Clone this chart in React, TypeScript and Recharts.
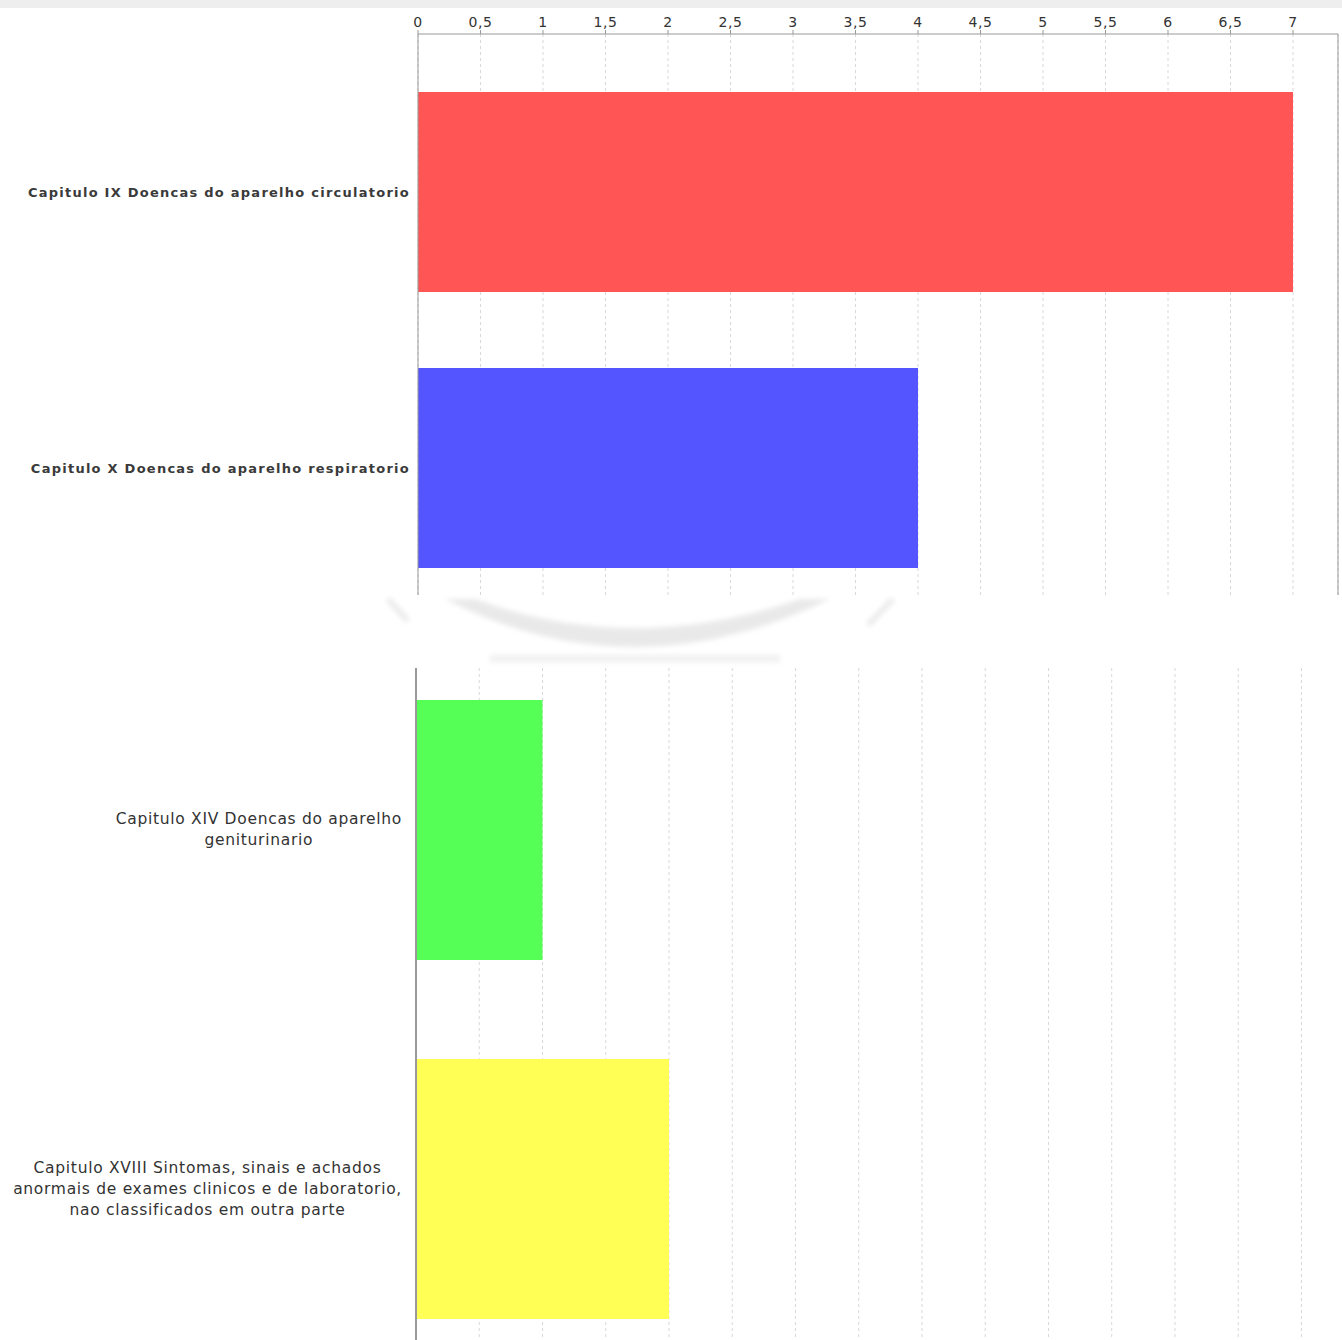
import React from 'react';
import { BarChart, Bar, XAxis, YAxis, CartesianGrid, Cell, ReferenceLine } from 'recharts';

// ---- data ----
const topCategories = [
  'Capitulo IX Doencas do aparelho circulatorio',
  'Capitulo X Doencas do aparelho respiratorio',
];
const topValues = [7, 4];
const topColors = ['#FF5555', '#5555FF'];

const bottomCategories = [
  'Capitulo XIV Doencas do aparelho geniturinario',
  'Capitulo XVIII Sintomas, sinais e achados anormais de exames clinicos e de laboratorio, nao classificados em outra parte',
];
const bottomLabelLines = [
  ['Capitulo XIV Doencas do aparelho', 'geniturinario'],
  [
    'Capitulo XVIII Sintomas, sinais e achados',
    'anormais de exames clinicos e de laboratorio,',
    'nao classificados em outra parte',
  ],
];
const bottomValues = [1, 2];
const bottomColors = ['#55FF55', '#FFFF55'];

const xTicks = [0, 0.5, 1, 1.5, 2, 2.5, 3, 3.5, 4, 4.5, 5, 5.5, 6, 6.5, 7];
const xMax = 7.36;

const topData = topCategories.map((name, i) => ({ name, value: topValues[i] }));
const bottomData = bottomCategories.map((name, i) => ({ name, value: bottomValues[i] }));

const fmt = (v: number) => String(v).replace('.', ',');

const BOTTOM_FONT = '15.5px "DejaVu Sans"';
const BOTTOM_LS = 0.7;
let ctx: CanvasRenderingContext2D | null = null;
const measure = (s: string) => {
  if (!ctx) ctx = document.createElement('canvas').getContext('2d');
  if (!ctx) return s.length * 9;
  ctx.font = BOTTOM_FONT;
  return ctx.measureText(s).width + BOTTOM_LS * s.length;
};

const BottomTick = (props: any) => {
  const { y, index } = props;
  const lines = bottomLabelLines[index] || [];
  const blockW = Math.max(...lines.map(measure));
  const cx = 402 - blockW / 2;
  const lh = 21;
  const y0 = y - ((lines.length - 1) * lh) / 2;
  return (
    <text
      textAnchor="middle"
      fontFamily='"DejaVu Sans"'
      fontSize={15.5}
      letterSpacing={BOTTOM_LS}
      fill="#333"
    >
      {lines.map((l: string, i: number) => (
        <tspan key={i} x={cx} y={y0 + i * lh} dominantBaseline="central">
          {l}
        </tspan>
      ))}
    </text>
  );
};

export default function App() {
  return (
    <div
      style={{
        position: 'absolute',
        left: 0,
        top: 0,
        width: 1342,
        height: 1340,
        background: '#ffffff',
        overflow: 'hidden',
      }}
    >
      <div style={{ position: 'absolute', left: 0, top: 0, width: 1342, height: 8, background: '#eeeeee' }} />

      {/* upper chart */}
      <div style={{ position: 'absolute', left: 0, top: 8, width: 1342, height: 587, overflow: 'hidden' }}>
        <BarChart
          width={1342}
          height={618}
          data={topData}
          layout="vertical"
          margin={{ top: 0, right: 4, bottom: 0, left: 0 }}
          barSize={200}
        >
          <CartesianGrid horizontal={false} stroke="#d8d8d8" strokeDasharray="3 3" />
          <XAxis
            type="number"
            orientation="top"
            domain={[0, xMax]}
            ticks={xTicks}
            tickFormatter={fmt}
            height={26}
            tickSize={4}
            tickMargin={3}
            stroke="#999"
            tick={{ fontSize: 14, fill: '#333', fontFamily: '"DejaVu Sans"', letterSpacing: 0.6 }}
            interval={0}
          />
          <YAxis
            type="category"
            dataKey="name"
            width={418}
            padding={{ top: 20, bottom: 20 }}
            tickLine={false}
            tickSize={6}
            tickMargin={2}
            stroke="#999"
            tick={{ fontSize: 13, fontWeight: 'bold', fill: '#3a3a3a', fontFamily: '"DejaVu Sans"', letterSpacing: 1.25 }}
          />
          <ReferenceLine x={xMax} stroke="#999" ifOverflow="extendDomain" />
          <Bar dataKey="value" isAnimationActive={false}>
            {topData.map((d, i) => (
              <Cell key={d.name} fill={topColors[i]} />
            ))}
          </Bar>
        </BarChart>
      </div>

      {/* faint watermark in the gap */}
      <svg style={{ position: 'absolute', left: 0, top: 595 }} width={1342} height={73}>
        <defs>
          <filter id="wmBlur">
            <feGaussianBlur stdDeviation="2.5" />
          </filter>
        </defs>
        <g filter="url(#wmBlur)" opacity={0.55}>
          <path d="M 445 4 Q 632 100 830 4 L 800 4 Q 632 62 475 4 Z" fill="#d8d8d8" />
          <path d="M 388 4 L 408 26" stroke="#dcdcdc" strokeWidth={6} />
          <path d="M 893 4 L 868 30" stroke="#dcdcdc" strokeWidth={6} />
          <rect x={490} y={60} width={290} height={7} fill="#e4e4e4" />
        </g>
      </svg>

      {/* lower chart */}
      <div style={{ position: 'absolute', left: 0, top: 668, width: 1342, height: 672, overflow: 'hidden' }}>
        <div style={{ position: 'absolute', left: 0, top: -18 }}>
          <BarChart
            width={1347}
            height={718}
            data={bottomData}
            layout="vertical"
            margin={{ top: 0, right: 0, bottom: 0, left: 0 }}
            barSize={260}
          >
            <CartesianGrid horizontal={false} stroke="#d8d8d8" strokeDasharray="3 3" />
            <XAxis type="number" domain={[0, xMax]} ticks={xTicks} hide interval={0} />
            <YAxis
              type="category"
              dataKey="name"
              width={416}
              tickLine={false}
              stroke="#999"
              strokeWidth={2}
              tick={<BottomTick />}
            />
            <Bar dataKey="value" isAnimationActive={false}>
              {bottomData.map((d, i) => (
                <Cell key={d.name} fill={bottomColors[i]} />
              ))}
            </Bar>
          </BarChart>
        </div>
      </div>
    </div>
  );
}
